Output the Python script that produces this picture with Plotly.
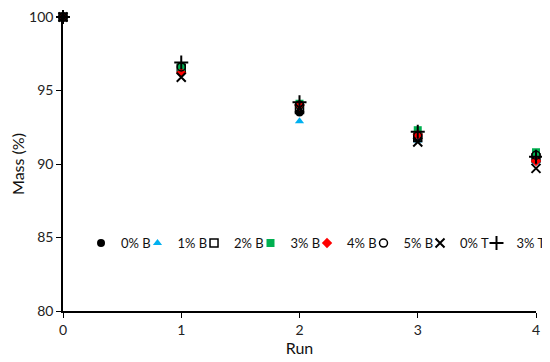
import plotly.graph_objects as go

runs = [0, 1, 2, 3, 4]
series_names = ["0% B", "1% B", "2% B", "3% B", "4% B", "5% B", "0% T", "3% T"]
mass_0B = [100, 96.4, 93.5, 91.7, 90.3]
mass_1B = [100, 96.3, 92.9, 91.6, 90.1]
mass_2B = [100, 96.5, 93.7, 91.8, 90.4]
mass_3B = [100, 96.6, 94.1, 92.3, 90.8]
mass_4B = [100, 96.2, 94.0, 92.0, 90.2]
mass_5B = [100, 96.6, 94.0, 91.9, 90.6]
mass_0T = [100, 95.9, 93.8, 91.5, 89.7]
mass_3T = [100, 96.9, 94.2, 92.2, 90.5]

values = [mass_0B, mass_1B, mass_2B, mass_3B, mass_4B, mass_5B, mass_0T, mass_3T]
styles = [
    dict(symbol="circle", color="black", size=8),
    dict(symbol="triangle-up", color="#00B0F0", size=8),
    dict(symbol="square-open", color="black", size=8, line=dict(width=1.5, color="black")),
    dict(symbol="square", color="#00B050", size=8),
    dict(symbol="diamond", color="#FF0000", size=8),
    dict(symbol="circle-open", color="black", size=8, line=dict(width=1.5, color="black")),
    dict(symbol="x-thin", color="black", size=9, line=dict(width=2, color="black")),
    dict(symbol="cross-thin", color="black", size=10, line=dict(width=2, color="black")),
]
# horizontal positions (paper fraction) of the individual legend entries
legend_x = [0.0381, 0.1575, 0.2770, 0.3964, 0.5159, 0.6353, 0.7548, 0.8742]

fig = go.Figure()
legend_layouts = {}
for i, (name, vals, st) in enumerate(zip(series_names, values, styles)):
    lg = "legend" if i == 0 else f"legend{i + 1}"
    fig.add_trace(go.Scatter(x=runs, y=vals, mode="markers", name=name,
                             legend=lg, marker=st, cliponaxis=False))
    legend_layouts[lg] = dict(orientation="h", x=legend_x[i], y=0.231,
                              xanchor="left", yanchor="middle",
                              bgcolor="rgba(0,0,0,0)", font=dict(size=13, color="#111"),
                              itemwidth=30)

fig.update_layout(
    width=542, height=354,
    margin=dict(l=55, r=14, t=9, b=51, autoexpand=False),
    paper_bgcolor="white", plot_bgcolor="white",
    font=dict(family="Lato, Liberation Sans, Arial, sans-serif", size=14, color="#222"),
    showlegend=True,
    xaxis=dict(range=[0, 4], tickvals=[0, 1, 2, 3, 4], showgrid=False, zeroline=False,
               showline=True, linecolor="black", linewidth=1.5, ticks="outside",
               ticklen=5, tickcolor="black", automargin=False, ticklabeloverflow="allow",
               title=dict(text="Run", font=dict(size=16, color="#111"), standoff=0)),
    yaxis=dict(range=[80, 100], tickvals=[80, 85, 90, 95, 100], showgrid=False, zeroline=False,
               showline=True, linecolor="black", linewidth=1.5, ticks="outside",
               ticklen=5, tickcolor="black", automargin=False, ticklabeloverflow="allow",
               title=dict(text="Mass (%)", font=dict(size=16, color="#111"), standoff=6)),
    **legend_layouts,
)

fig.write_html("out.html")
